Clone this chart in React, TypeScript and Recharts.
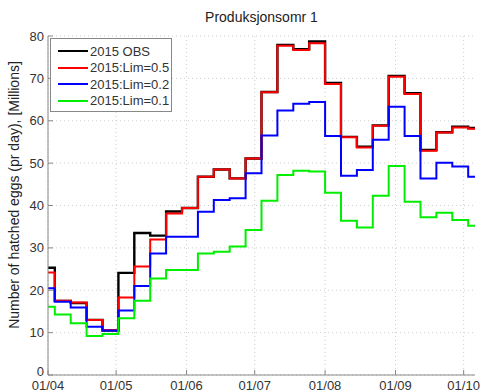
import React from "react";
import { LineChart, Line, XAxis, YAxis, CartesianGrid } from "recharts";

// days since 01/04 where each weekly value starts (last point closes the step)
const days = [0, 3, 10, 17, 24, 31, 38, 45, 52, 59, 66, 73, 80, 87, 94, 101, 108, 115, 122, 129, 136, 143, 150, 157, 164, 171, 178, 185, 188];

const obs = [25.3, 17.5, 17.0, 13.0, 10.5, 24.1, 33.5, 32.9, 38.6, 39.4, 46.8, 48.5, 46.4, 51.1, 66.8, 77.9, 76.9, 78.7, 68.9, 56.2, 53.9, 58.9, 70.6, 66.5, 53.1, 57.3, 58.6, 58.3, 58.3];
const lim05 = [24.2, 17.5, 17.1, 13.0, 10.6, 18.3, 25.6, 32.0, 38.1, 39.4, 46.8, 48.5, 46.4, 51.1, 66.7, 77.7, 76.7, 78.3, 68.7, 56.1, 53.7, 58.8, 70.4, 66.3, 52.9, 57.2, 58.4, 58.1, 58.1];
const lim02 = [20.5, 17.3, 15.9, 11.4, 10.5, 15.2, 21.0, 28.7, 32.6, 32.6, 38.5, 41.3, 41.7, 47.6, 56.5, 62.4, 64.0, 64.4, 56.4, 47.0, 48.4, 55.5, 63.3, 56.4, 46.4, 50.1, 49.2, 46.8, 46.8];
const lim01 = [16.1, 14.3, 12.2, 9.2, 9.7, 13.4, 17.5, 22.8, 24.8, 24.8, 28.7, 29.1, 30.3, 34.2, 41.1, 47.2, 48.2, 48.0, 43.0, 36.4, 34.8, 42.3, 49.3, 40.9, 37.2, 38.3, 36.6, 35.2, 35.2];

const xTicks = [0, 30, 61, 91, 122, 153, 183];
const xTickLabels = ["01/04", "01/05", "01/06", "01/07", "01/08", "01/09", "01/10"];
const yTicks = [0, 10, 20, 30, 40, 50, 60, 70, 80];

const series = [
  { key: "obs", name: "2015 OBS", color: "#000000", width: 2.4 },
  { key: "lim05", name: "2015:Lim=0.5", color: "#ff0000", width: 2 },
  { key: "lim02", name: "2015:Lim=0.2", color: "#0000ff", width: 2 },
  { key: "lim01", name: "2015:Lim=0.1", color: "#00ee00", width: 2 },
];

const data = days.map((d, i) => ({
  day: d,
  obs: obs[i],
  lim05: lim05[i],
  lim02: lim02[i],
  lim01: lim01[i],
}));

const font = '"Liberation Sans", Arial, sans-serif';
const tickStyle = { fill: "#333", fontSize: 13, fontFamily: font };

// the "0" sits a bit above the corner, like in matlab
function YTick(props: any) {
  const { x, y, payload } = props;
  return (
    <text
      x={x}
      y={y}
      dy={payload.value === 0 ? -4 : 0}
      textAnchor="end"
      dominantBaseline="central"
      fill="#333"
      fontSize={13}
      fontFamily={font}
    >
      {payload.value}
    </text>
  );
}

export default function App() {
  return (
    <div style={{ position: "absolute", left: 0, top: 0, width: 480, height: 392, background: "#fff" }}>
      <div
        style={{
          position: "absolute",
          left: 48,
          width: 427,
          top: 9,
          textAlign: "center",
          fontFamily: font,
          fontSize: 14,
          color: "#222",
        }}
      >
        Produksjonsomr 1
      </div>
      <LineChart width={480} height={392} data={data} margin={{ top: 36, right: 5, bottom: 0, left: 0 }}>
        <CartesianGrid stroke="#cfcfcf" strokeDasharray="1 3" horizontalValues={yTicks} verticalValues={xTicks} />
        <XAxis
          xAxisId={0}
          dataKey="day"
          type="number"
          domain={[0, 188]}
          ticks={xTicks}
          tickFormatter={(v) => xTickLabels[xTicks.indexOf(v)]}
          height={17}
          stroke="#888"
          tickSize={-5}
          tickMargin={11}
          tick={tickStyle}
          interval={0}
        />
        <XAxis
          xAxisId="top"
          orientation="top"
          dataKey="day"
          type="number"
          domain={[0, 188]}
          ticks={xTicks}
          height={0}
          stroke="#888"
          tickSize={-5}
          tick={false}
        />
        <YAxis
          yAxisId={0}
          type="number"
          domain={[0, 80]}
          ticks={yTicks}
          width={48}
          stroke="#888"
          tickSize={-5}
          tickMargin={9}
          tick={<YTick />}
          interval={0}
          label={{
            content: () => (
              <text
                x={14}
                y={195}
                transform="rotate(-90 14 195)"
                textAnchor="middle"
                dominantBaseline="central"
                fontFamily={font}
                fontSize={14}
                fill="#222"
              >
                Number of hatched eggs (pr day), [Millions]
              </text>
            ),
          }}
        />
        <YAxis
          yAxisId="right"
          orientation="right"
          type="number"
          domain={[0, 80]}
          ticks={yTicks}
          width={0}
          stroke="#888"
          tickSize={-5}
          tick={false}
        />
        {series.map((s) => (
          <Line
            key={s.key}
            type="stepAfter"
            dataKey={s.key}
            name={s.name}
            stroke={s.color}
            strokeWidth={s.width}
            dot={false}
            isAnimationActive={false}
          />
        ))}
      </LineChart>
      <div
        style={{
          position: "absolute",
          left: 50,
          top: 38,
          width: 122,
          height: 74,
          background: "#fff",
          border: "1px solid #888",
          boxSizing: "border-box",
          fontFamily: font,
          fontSize: 13,
          color: "#333",
          paddingTop: 4,
        }}
      >
        {series.map((s) => (
          <div key={s.key} style={{ display: "flex", alignItems: "center", height: 16.5 }}>
            <div style={{ width: 30, height: 2, background: s.color, marginLeft: 7, marginRight: 2 }} />
            <span>{s.name}</span>
          </div>
        ))}
      </div>
    </div>
  );
}
